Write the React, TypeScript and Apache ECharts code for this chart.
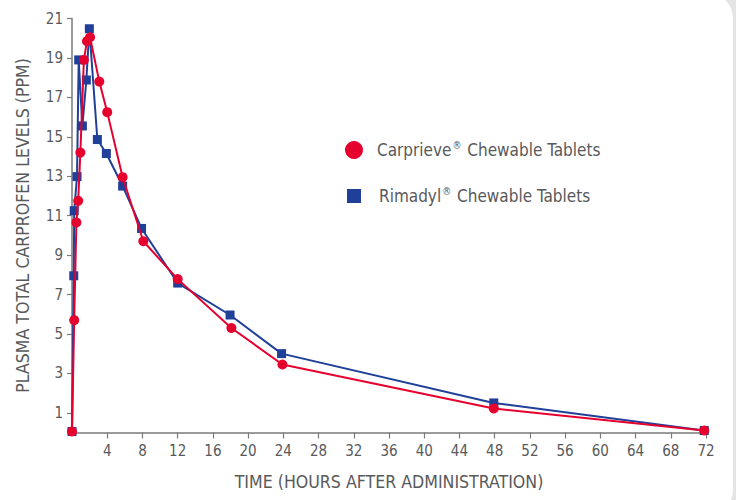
import React, { useEffect, useRef } from "react";
import * as echarts from "echarts";

const carprieveTimes = [0, 0.25, 0.5, 0.7, 0.95, 1.35, 1.7, 2.05, 3.1, 4, 5.75, 8.1, 12, 18.1, 23.9, 47.9, 71.8];
const carprieveValues = [0.05, 5.7, 10.65, 11.75, 14.2, 18.9, 19.85, 20.05, 17.8, 16.25, 12.95, 9.7, 7.78, 5.3, 3.45, 1.22, 0.1];

const rimadylTimes = [0, 0.2, 0.25, 0.57, 0.76, 1.18, 1.63, 1.97, 2.88, 3.9, 5.75, 7.9, 12, 17.95, 23.8, 47.9, 71.8];
const rimadylValues = [0.05, 7.95, 11.25, 12.98, 18.9, 15.55, 17.88, 20.48, 14.86, 14.15, 12.5, 10.35, 7.58, 5.96, 4.0, 1.5, 0.1];

const yTicks = [1, 3, 5, 7, 9, 11, 13, 15, 17, 19, 21];
const xTicks = [4, 8, 12, 16, 20, 24, 28, 32, 36, 40, 44, 48, 52, 56, 60, 64, 68, 72];

const CARPRIEVE = "Carprieve® Chewable Tablets";
const RIMADYL = "Rimadyl® Chewable Tablets";

const RED = "#e6002e";
const BLUE = "#1f3f98";
const TEXT = "#58595b";
const FONT = "'Liberation Sans Narrow', 'DejaVu Sans Condensed', 'Roboto Condensed', sans-serif";

const legendFormatter = (n: string) => {
  const [a, b] = n.split("®");
  return `{a|${a}}{r|®}{a|${b}}`;
};
const legendRich = {
  a: { fontSize: 17, color: TEXT, fontFamily: FONT, lineHeight: 20 },
  r: { fontSize: 10, color: TEXT, fontFamily: FONT, verticalAlign: "top", lineHeight: 20, padding: [0, 1, 0, 1] },
};

export default function App() {
  const ref = useRef<HTMLDivElement>(null);
  useEffect(() => {
    document.body.style.margin = "0";
    const chart = echarts.init(ref.current!, null, { renderer: "svg" });
    chart.setOption({
      animation: false,
      backgroundColor: "#e4e4e4",
      graphic: [
        {
          type: "rect",
          z: -10,
          silent: true,
          shape: { x: -30, y: -6, width: 763, height: 520, r: 24 },
          style: { fill: "#ffffff" },
        },
      ],
      grid: { left: 72, right: 30, top: 18.5, bottom: 67.5 },
      legend: [
        {
          data: [{ name: CARPRIEVE, icon: "circle" }],
          left: 345,
          top: 140,
          padding: 0,
          itemWidth: 18,
          itemHeight: 18,
          formatter: legendFormatter,
          textStyle: { rich: legendRich, padding: [0, 0, 0, 9] },
        },
        {
          data: [{ name: RIMADYL, icon: "rect" }],
          left: 347,
          top: 186,
          padding: 0,
          itemWidth: 14,
          itemHeight: 14,
          formatter: legendFormatter,
          textStyle: { rich: legendRich, padding: [0, 0, 0, 13] },
        },
      ],
      xAxis: {
        type: "value",
        min: 0,
        max: 72,
        interval: 4,
        name: "TIME (HOURS AFTER ADMINISTRATION)",
        nameLocation: "middle",
        nameGap: 40,
        nameTextStyle: { fontSize: 17.6, color: TEXT, fontFamily: FONT },
        axisLine: { show: true, lineStyle: { color: "#7a7a7a", width: 1.5 } },
        axisTick: { show: true, length: 6, lineStyle: { color: "#7a7a7a", width: 1.2 }, customValues: xTicks },
        axisLabel: { customValues: xTicks, fontSize: 15, color: TEXT, fontFamily: FONT, margin: 11 },
        splitLine: { show: false },
      },
      yAxis: {
        type: "value",
        min: 0,
        max: 21,
        name: "PLASMA TOTAL CARPROFEN LEVELS (PPM)",
        nameLocation: "middle",
        nameGap: 40,
        nameTextStyle: { fontSize: 17.6, color: TEXT, fontFamily: FONT },
        axisLine: { show: true, lineStyle: { color: "#7a7a7a", width: 1.5 } },
        axisTick: { show: true, length: 5, lineStyle: { color: "#7a7a7a", width: 1.2 }, customValues: yTicks },
        axisLabel: { customValues: yTicks, fontSize: 15, color: TEXT, fontFamily: FONT, margin: 9 },
        splitLine: { show: false },
      },
      series: [
        {
          name: RIMADYL,
          type: "line",
          data: rimadylTimes.map((t, i) => [t, rimadylValues[i]]),
          symbol: "rect",
          symbolSize: 9,
          color: BLUE,
          itemStyle: { color: BLUE },
          lineStyle: { color: BLUE, width: 2 },
          z: 2,
        },
        {
          name: CARPRIEVE,
          type: "line",
          data: carprieveTimes.map((t, i) => [t, carprieveValues[i]]),
          symbol: "circle",
          symbolSize: 10,
          color: RED,
          itemStyle: { color: RED },
          lineStyle: { color: RED, width: 2 },
          z: 3,
        },
      ],
    });
    return () => chart.dispose();
  }, []);
  return <div ref={ref} style={{ width: 736, height: 500, position: "absolute", left: 0, top: 0 }} />;
}
